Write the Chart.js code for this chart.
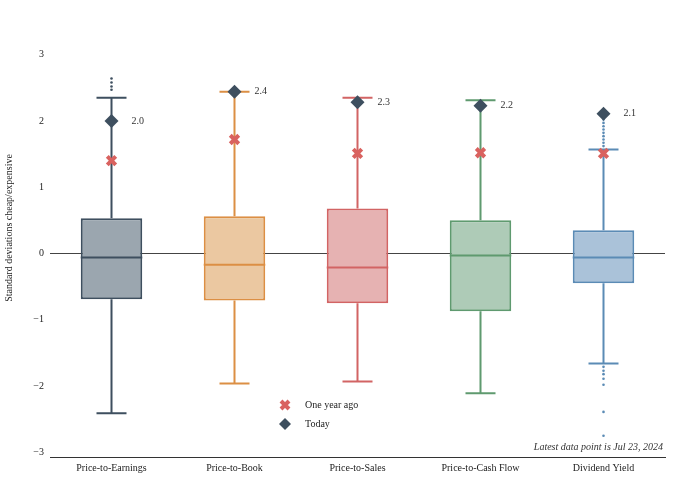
<!DOCTYPE html>
<html><head><meta charset="utf-8">
<script src="https://cdn.jsdelivr.net/npm/chart.js@4"></script>
<style>html,body{margin:0;padding:0;background:#fff}#wrap{width:700px;height:500px}</style>
</head><body><div id="wrap"><canvas id="c" width="700" height="500"></canvas></div>
<script>
const categories = ['Price-to-Earnings','Price-to-Book','Price-to-Sales','Price-to-Cash Flow','Dividend Yield'];
const q1Values = [-0.69,-0.71,-0.75,-0.87,-0.45];
const q3Values = [0.53,0.56,0.68,0.50,0.35];
const medianValues = [-0.06,-0.17,-0.21,-0.03,-0.06];
const lowerWhisker = [-2.41,-1.96,-1.93,-2.11,-1.66];
const upperWhisker = [2.35,2.44,2.35,2.31,1.57];
const todayValues = [2.00,2.44,2.28,2.23,2.11];
const todayLabels = ['2.0','2.4','2.3','2.2','2.1'];
const yearAgoValues = [1.40,1.72,1.51,1.52,1.51];
const outlierCategory = ['Price-to-Earnings','Price-to-Earnings','Price-to-Earnings','Price-to-Earnings',
  'Dividend Yield','Dividend Yield','Dividend Yield','Dividend Yield','Dividend Yield','Dividend Yield','Dividend Yield','Dividend Yield','Dividend Yield',
  'Dividend Yield','Dividend Yield','Dividend Yield','Dividend Yield','Dividend Yield','Dividend Yield','Dividend Yield'];
const outlierValues = [2.47,2.52,2.58,2.64,
  1.62,1.67,1.72,1.77,1.82,1.87,1.92,1.97,2.02,
  -1.71,-1.77,-1.82,-1.89,-1.98,-2.39,-2.75];
const yTicks = [-3,-2,-1,0,1,2,3];
const yTitle = 'Standard deviations cheap/expensive';

const lineColors = ['#3e4f5f','#dc8f44','#d26464','#5f9a6f','#5b8bb5'];
const fillColors = ['#9ba6af','#ebc8a1','#e6b2b2','#aecbb7','#aac2d9'];
const serif = '"Liberation Serif","DejaVu Serif",serif';

const boxPlugin = {
  id: 'boxparts',
  beforeDatasetsDraw(chart) {
    const {ctx, scales:{x, y}} = chart;
    ctx.save();
    categories.forEach((c, i) => {
      const cx = x.getPixelForValue(i);
      ctx.strokeStyle = lineColors[i];
      ctx.lineWidth = 2;
      ctx.beginPath();
      ctx.moveTo(cx, y.getPixelForValue(q3Values[i]));
      ctx.lineTo(cx, y.getPixelForValue(upperWhisker[i]));
      ctx.moveTo(cx, y.getPixelForValue(q1Values[i]));
      ctx.lineTo(cx, y.getPixelForValue(lowerWhisker[i]));
      const hw = 15;
      ctx.moveTo(cx - hw, y.getPixelForValue(upperWhisker[i]));
      ctx.lineTo(cx + hw, y.getPixelForValue(upperWhisker[i]));
      ctx.moveTo(cx - hw, y.getPixelForValue(lowerWhisker[i]));
      ctx.lineTo(cx + hw, y.getPixelForValue(lowerWhisker[i]));
      ctx.stroke();
    });
    ctx.restore();
  },
  afterDatasetsDraw(chart) {
    const {ctx, scales:{x, y}, chartArea} = chart;
    ctx.save();
    const meta = chart.getDatasetMeta(0);
    categories.forEach((c, i) => {
      const bar = meta.data[i];
      const half = bar.width / 2;
      const cx = x.getPixelForValue(i);
      const my = y.getPixelForValue(medianValues[i]);
      ctx.strokeStyle = lineColors[i];
      ctx.lineWidth = 2;
      ctx.beginPath();
      ctx.moveTo(cx - half, my);
      ctx.lineTo(cx + half, my);
      ctx.stroke();
      ctx.fillStyle = '#333';
      ctx.font = '10px ' + serif;
      ctx.textAlign = 'left';
      ctx.textBaseline = 'middle';
      ctx.fillText(todayLabels[i], cx + 20, y.getPixelForValue(todayValues[i]));
    });
    // legend
    const lx = 285, ly1 = 405, ly2 = 424;
    ctx.strokeStyle = '#d9625f';
    ctx.lineWidth = 4;
    ctx.beginPath();
    ctx.moveTo(lx - 4, ly1 - 4); ctx.lineTo(lx + 4, ly1 + 4);
    ctx.moveTo(lx + 4, ly1 - 4); ctx.lineTo(lx - 4, ly1 + 4);
    ctx.stroke();
    ctx.fillStyle = '#3e4f5f';
    ctx.beginPath();
    ctx.moveTo(lx, ly2 - 6); ctx.lineTo(lx + 6, ly2); ctx.lineTo(lx, ly2 + 6); ctx.lineTo(lx - 6, ly2);
    ctx.closePath(); ctx.fill();
    ctx.fillStyle = '#222';
    ctx.font = '10px ' + serif;
    ctx.textAlign = 'left';
    ctx.textBaseline = 'middle';
    ctx.fillText('One year ago', lx + 20, ly1);
    ctx.fillText('Today', lx + 20, ly2);
    ctx.font = 'italic 10px ' + serif;
    ctx.textAlign = 'right';
    ctx.fillStyle = '#333';
    ctx.fillText('Latest data point is Jul 23, 2024', chartArea.right - 2, 447);
    // y axis title
    ctx.translate(9, 228);
    ctx.rotate(-Math.PI / 2);
    ctx.font = '10px ' + serif;
    ctx.textAlign = 'center';
    ctx.fillStyle = '#222';
    ctx.fillText(yTitle, 0, 0);
    ctx.restore();
  }
};

new Chart(document.getElementById('c'), {
  type: 'bar',
  data: {
    labels: categories,
    datasets: [
      {
        label: 'box',
        data: categories.map((c, i) => [q1Values[i], q3Values[i]]),
        backgroundColor: fillColors,
        borderColor: lineColors,
        borderWidth: 2,
        borderSkipped: false,
        barPercentage: 0.5,
        categoryPercentage: 1,
        order: 3
      },
      {
        type: 'line',
        label: 'outliers',
        data: outlierValues.map((v, i) => ({x: outlierCategory[i], y: v})),
        showLine: false,
        pointRadius: 1.3,
        pointBackgroundColor: outlierCategory.map(c => lineColors[categories.indexOf(c)]),
        pointBorderWidth: 0,
        order: 2
      },
      {
        type: 'line',
        label: 'One year ago',
        data: yearAgoValues,
        showLine: false,
        pointStyle: 'crossRot',
        pointRadius: 6,
        pointBorderWidth: 4,
        pointBorderColor: '#d9625f',
        order: 1
      },
      {
        type: 'line',
        label: 'Today',
        data: todayValues,
        showLine: false,
        pointStyle: 'rectRot',
        pointRadius: 7,
        pointBorderWidth: 0,
        pointBackgroundColor: '#3e4f5f',
        order: 0
      }
    ]
  },
  plugins: [boxPlugin],
  options: {
    responsive: false,
    animation: false,
    layout: {padding: {top: 48, right: 35, bottom: 21, left: 0}},
    plugins: {legend: {display: false}, tooltip: {enabled: false}},
    scales: {
      x: {
        grid: {display: false, drawTicks: false},
        border: {display: true, color: '#333', width: 1},
        ticks: {color: '#222', font: {family: serif, size: 10}, padding: 5, maxRotation: 0}
      },
      y: {
        min: -3.07, max: 3.1,
        afterBuildTicks: (s) => { s.ticks = yTicks.map(v => ({value: v})); },
        afterFit: (s) => { s.width = 50; },
        grid: {drawTicks: false, color: (c) => c.tick && c.tick.value === 0 ? '#444' : 'rgba(0,0,0,0)', lineWidth: 1},
        border: {display: false},
        ticks: {color: '#222', font: {family: serif, size: 10}, padding: 6,
          callback: (v) => String(v).replace('-', '\u2212')},
        title: {display: false}
      }
    }
  }
});
</script>
</body></html>
